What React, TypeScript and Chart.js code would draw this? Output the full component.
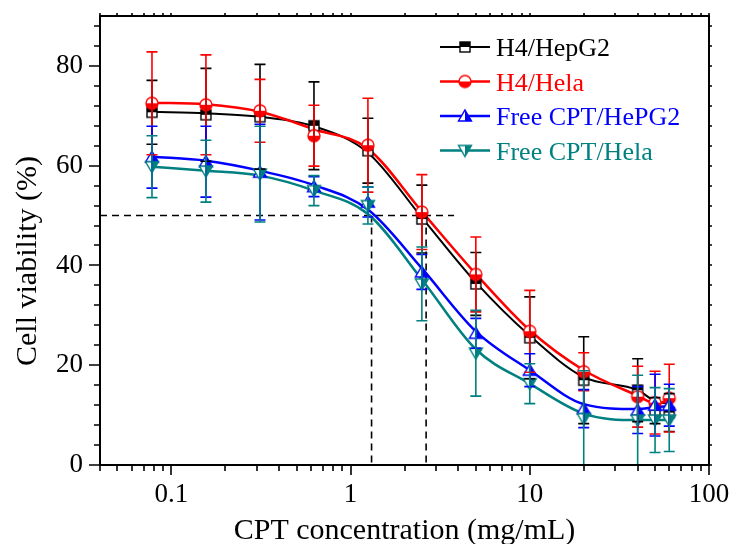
import React, { useEffect, useRef } from "react";
import { Chart, registerables } from "chart.js";

Chart.register(...registerables);

// ---------- data ----------
const concentrations = [0.078, 0.156, 0.3125, 0.625, 1.25, 2.5, 5, 10, 20, 40, 50, 60];

// measured points (mean ± SD)
const h4HepG2 = [70.7, 70.2, 69.8, 68.0, 63.0, 49.3, 36.3, 25.5, 17.0, 15.0, 10.9, 10.5];
const h4HepG2Err = [6.4, 9.3, 10.5, 8.8, 6.5, 6.8, 6.3, 8.2, 8.7, 6.3, 2.6, 3.8];

const h4Hela = [72.5, 72.2, 71.0, 66.0, 64.1, 50.7, 38.2, 26.8, 18.7, 13.7, 12.5, 13.4];
const h4HelaErr = [10.3, 10.0, 6.3, 6.1, 9.4, 7.5, 7.5, 8.2, 3.8, 6.1, 6.3, 6.8];

const freeHepG2 = [61.7, 60.8, 58.7, 55.8, 52.7, 38.7, 26.4, 19.0, 11.3, 11.0, 12.0, 12.0];
const freeHepG2Err = [6.2, 7.1, 9.6, 2.0, 3.0, 3.5, 3.0, 3.3, 3.8, 4.7, 6.2, 4.2];

const freeHela = [59.8, 58.9, 58.3, 55.0, 52.0, 36.3, 22.4, 16.3, 9.3, 9.0, 9.0, 9.0];
const freeHelaErr = [6.2, 6.2, 9.6, 3.0, 3.7, 7.4, 8.6, 4.0, 9.6, 9.0, 6.5, 6.3];

// fitted curves, at the same concentrations
const h4HepG2Fit = [70.8, 70.5, 69.8, 67.9, 62.6, 49.6, 36.6, 25.9, 17.6, 15.0, 12.8, 12.2];
const h4HelaFit = [72.6, 72.3, 70.8, 67.3, 63.4, 50.8, 38.3, 27.0, 19.0, 13.9, 12.4, 12.9];
const freeHepG2Fit = [61.8, 61.0, 59.0, 56.1, 51.2, 39.4, 26.8, 19.0, 12.2, 11.2, 11.6, 11.8];
const freeHelaFit = [59.8, 59.0, 58.0, 55.0, 50.3, 37.2, 23.2, 16.3, 10.3, 9.0, 9.0, 9.0];

const seriesNames = ["H4/HepG2", "H4/Hela", "Free CPT/HePG2", "Free CPT/Hela"];
const seriesColors = ["#000000", "#ff0000", "#0000ff", "#008080"];

// IC50 guide lines
const ic50Level = 50;
const ic50Free = 1.31;
const ic50H4 = 2.64;
const guideEndX = 3.78;

const xMin = 0.04;
const xMax = 100;
const yMin = 0;
const yMax = 90;
const xTickLabels = [0.1, 1, 10, 100];
const yTickLabels = [0, 20, 40, 60, 80];

const FONT = "'Liberation Serif', 'Times New Roman', serif";

// ---------- markers ----------
function makeMarker(shape: string, color: string): HTMLCanvasElement {
  const c = document.createElement("canvas");
  const S = 16;
  c.width = S;
  c.height = S;
  const ctx = c.getContext("2d")!;
  const cx = S / 2;
  const cy = S / 2;
  ctx.lineWidth = 1.4;
  ctx.strokeStyle = color;
  const tri = (dir: number, half: boolean) => {
    ctx.beginPath();
    ctx.moveTo(cx, cy - 6 * dir);
    ctx.lineTo(cx + 6.5, cy + 5 * dir);
    ctx.lineTo(half ? cx : cx - 6.5, cy + 5 * dir);
    ctx.closePath();
  };
  if (shape === "square") {
    const h = 5;
    ctx.fillStyle = "#fff";
    ctx.fillRect(cx - h, cy - h, 2 * h, 2 * h);
    ctx.fillStyle = color;
    ctx.fillRect(cx - h, cy - h, 2 * h, h);
    ctx.strokeRect(cx - h, cy - h, 2 * h, 2 * h);
  } else if (shape === "circle") {
    const r = 6;
    ctx.beginPath();
    ctx.arc(cx, cy, r, 0, Math.PI * 2);
    ctx.fillStyle = "#fff";
    ctx.fill();
    ctx.beginPath();
    ctx.arc(cx, cy, r, 0, Math.PI);
    ctx.closePath();
    ctx.fillStyle = color;
    ctx.fill();
    ctx.beginPath();
    ctx.arc(cx, cy, r, 0, Math.PI * 2);
    ctx.stroke();
  } else {
    const dir = shape === "up" ? 1 : -1;
    tri(dir, false);
    ctx.fillStyle = "#fff";
    ctx.fill();
    tri(dir, true);
    ctx.fillStyle = color;
    ctx.fill();
    tri(dir, false);
    ctx.stroke();
  }
  return c;
}

export default function App() {
  const ref = useRef<HTMLCanvasElement | null>(null);

  useEffect(() => {
    const canvas = ref.current;
    if (!canvas) return;

    const shapes = ["square", "circle", "up", "down"];
    const markers = shapes.map((s, i) => makeMarker(s, seriesColors[i]));
    const values = [h4HepG2, h4Hela, freeHepG2, freeHela];
    const errors = [h4HepG2Err, h4HelaErr, freeHepG2Err, freeHelaErr];
    const fits = [h4HepG2Fit, h4HelaFit, freeHepG2Fit, freeHelaFit];
    const widths = [2, 2.5, 2.5, 2.5];

    const fitDatasets: any[] = fits.map((vals, i) => ({
      label: seriesNames[i] + " fit",
      data: concentrations.map((x, j) => ({ x, y: vals[j] })),
      borderColor: seriesColors[i],
      borderWidth: widths[i],
      pointRadius: 0,
      cubicInterpolationMode: "monotone",
      fill: false,
      order: 20 - i,
    }));

    const pointDatasets: any[] = values.map((vals, i) => ({
      label: seriesNames[i],
      data: concentrations.map((x, j) => ({ x, y: vals[j] })),
      errors: errors[i],
      isSeries: true,
      showLine: false,
      borderColor: seriesColors[i],
      backgroundColor: seriesColors[i],
      pointStyle: markers[i],
      pointRadius: 6,
      pointHoverRadius: 6,
      order: 10 - i,
    }));

    const dashStyle = {
      borderColor: "#000",
      borderWidth: 1.6,
      borderDash: [7, 5],
      pointRadius: 0,
      fill: false,
      tension: 0,
      order: 30,
    };
    const guideDatasets: any[] = [
      { label: "g1", data: [{ x: xMin, y: ic50Level }, { x: guideEndX, y: ic50Level }], ...dashStyle },
      { label: "g2", data: [{ x: ic50Free, y: ic50Level }, { x: ic50Free, y: yMin }], ...dashStyle },
      { label: "g3", data: [{ x: ic50H4, y: ic50Level }, { x: ic50H4, y: yMin }], ...dashStyle },
    ];

    const decorPlugin = {
      id: "decor",
      afterDatasetsDraw(chart: any) {
        const ctx = chart.ctx;
        const xs = chart.scales.x;
        const ys = chart.scales.y;
        chart.data.datasets.forEach((ds: any) => {
          if (!ds.isSeries) return;
          ctx.save();
          ctx.strokeStyle = ds.borderColor;
          ctx.lineWidth = 1.6;
          ds.data.forEach((p: any, j: number) => {
            const e = ds.errors[j];
            const px = xs.getPixelForValue(p.x);
            const y1 = ys.getPixelForValue(p.y + e);
            const y2 = ys.getPixelForValue(Math.max(p.y - e, yMin));
            ctx.beginPath();
            ctx.moveTo(px, y1);
            ctx.lineTo(px, y2);
            ctx.moveTo(px - 5.5, y1);
            ctx.lineTo(px + 5.5, y1);
            ctx.moveTo(px - 5.5, y2);
            ctx.lineTo(px + 5.5, y2);
            ctx.stroke();
          });
          ctx.restore();
        });
      },
      afterDraw(chart: any) {
        const ctx = chart.ctx;
        const { left, right, top, bottom } = chart.chartArea;
        const xs = chart.scales.x;
        const ys = chart.scales.y;
        ctx.save();
        ctx.strokeStyle = "#000";
        ctx.lineWidth = 2;
        ctx.strokeRect(left, top, right - left, bottom - top);

        ctx.lineWidth = 1.6;
        const xTicks: { v: number; major: boolean }[] = [];
        [0.01, 0.1, 1, 10].forEach((d) => {
          for (let k = 1; k <= 9; k++) {
            const v = k * d;
            if (v >= xMin - 1e-9 && v <= xMax + 1e-9) xTicks.push({ v, major: k === 1 });
          }
        });
        xTicks.push({ v: 100, major: true });
        xTicks.forEach((t) => {
          const px = Math.round(xs.getPixelForValue(t.v));
          ctx.beginPath();
          ctx.moveTo(px, bottom);
          ctx.lineTo(px, bottom + (t.major ? 10 : 6));
          ctx.moveTo(px, top);
          ctx.lineTo(px, top - 3);
          ctx.stroke();
        });
        for (let v = 0; v <= 88; v += 4) {
          const py = Math.round(ys.getPixelForValue(v));
          const major = v % 20 === 0;
          ctx.beginPath();
          ctx.moveTo(left, py);
          ctx.lineTo(left - (major ? 11 : 6), py);
          ctx.moveTo(right, py);
          ctx.lineTo(right + 3, py);
          ctx.stroke();
        }

        ctx.fillStyle = "#000";
        ctx.font = `30px ${FONT}`;
        ctx.textAlign = "center";
        ctx.textBaseline = "alphabetic";
        ctx.fillText("CPT concentration (mg/mL)", (left + right) / 2, 539);
        ctx.save();
        ctx.translate(36, 261);
        ctx.rotate(-Math.PI / 2);
        ctx.fillText("Cell viability (%)", 0, 0);
        ctx.restore();

        const rowY = [47, 81.5, 116, 150.5];
        ctx.font = `26px ${FONT}`;
        ctx.textAlign = "left";
        seriesNames.forEach((name, i) => {
          const y = rowY[i];
          ctx.strokeStyle = seriesColors[i];
          ctx.lineWidth = widths[i];
          ctx.beginPath();
          ctx.moveTo(440, y);
          ctx.lineTo(490, y);
          ctx.stroke();
          const m = markers[i];
          ctx.drawImage(m, 465 - m.width / 2, y - m.height / 2);
          ctx.fillStyle = seriesColors[i];
          ctx.fillText(name, 496, y + 9);
        });
        ctx.restore();
      },
    };

    const zeroPad = (scale: any) => {
      scale.paddingTop = 0;
      scale.paddingBottom = 0;
      scale.paddingLeft = 0;
      scale.paddingRight = 0;
    };

    const chart = new Chart(canvas, {
      type: "line",
      data: { datasets: [...pointDatasets, ...fitDatasets, ...guideDatasets] },
      options: {
        responsive: false,
        animation: false,
        devicePixelRatio: 1,
        layout: { padding: { left: 0, top: 16, right: 21, bottom: 0 } },
        plugins: {
          legend: { display: false },
          tooltip: { enabled: false },
          title: { display: false },
        },
        scales: {
          x: {
            type: "logarithmic",
            min: xMin,
            max: xMax,
            grid: { display: false, drawTicks: false },
            border: { display: false },
            afterBuildTicks: (scale: any) => {
              scale.ticks = xTickLabels.map((v) => ({ value: v }));
            },
            afterFit: (scale: any) => {
              scale.height = 79;
              zeroPad(scale);
            },
            ticks: {
              autoSkip: false,
              maxRotation: 0,
              padding: 14,
              color: "#000",
              font: { family: FONT, size: 27 },
              callback: (v: any) => String(v),
            },
          },
          y: {
            type: "linear",
            min: yMin,
            max: yMax,
            grid: { display: false, drawTicks: false },
            border: { display: false },
            afterBuildTicks: (scale: any) => {
              scale.ticks = yTickLabels.map((v) => ({ value: v }));
            },
            afterFit: (scale: any) => {
              scale.width = 100;
              zeroPad(scale);
            },
            ticks: {
              padding: 17,
              color: "#000",
              font: { family: FONT, size: 27 },
              callback: (v: any) => String(v),
            },
          },
        },
      } as any,
      plugins: [decorPlugin],
    });

    return () => chart.destroy();
  }, []);

  return (
    <div style={{ position: "absolute", left: 0, top: 0, width: 730, height: 544, background: "#fff" }}>
      <canvas ref={ref} width={730} height={544} style={{ width: 730, height: 544, display: "block" }} />
    </div>
  );
}
